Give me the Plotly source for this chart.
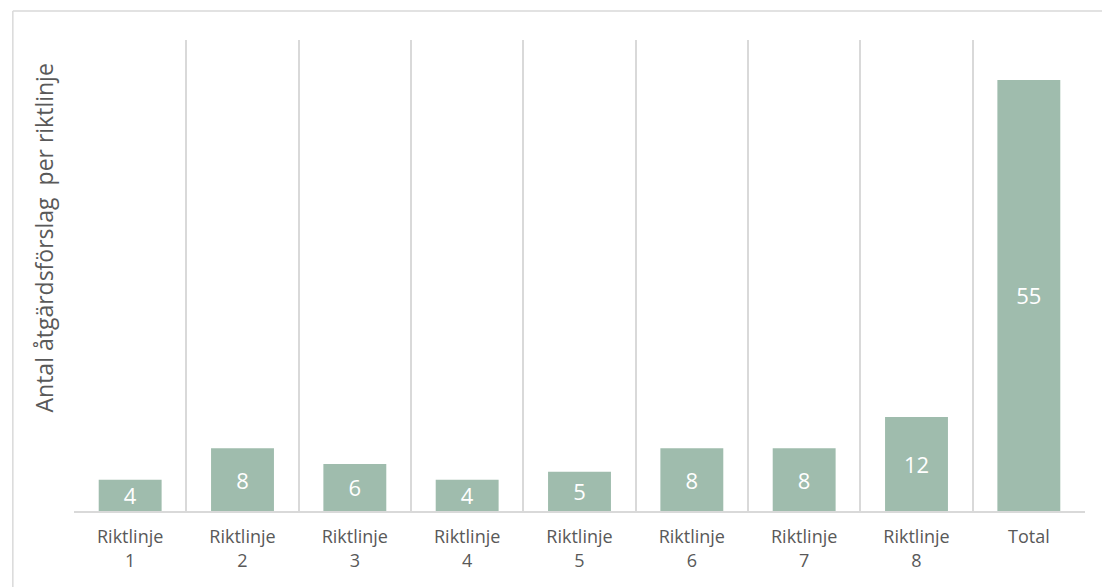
import plotly.graph_objects as go

categories = ["Riktlinje<br>1", "Riktlinje<br>2", "Riktlinje<br>3", "Riktlinje<br>4",
              "Riktlinje<br>5", "Riktlinje<br>6", "Riktlinje<br>7", "Riktlinje<br>8", "Total"]
values = [4, 8, 6, 4, 5, 8, 8, 12, 55]
y_title = "Antal åtgärdsförslag  per riktlinje"

FONT = "Open Sans, Liberation Sans, sans-serif"

fig = go.Figure(go.Bar(
    x=categories, y=values,
    marker=dict(color="#9fbcad", line=dict(width=0)),
    text=[str(v) for v in values],
    textposition="inside", insidetextanchor="middle",
    textangle=0, constraintext="none",
    textfont=dict(color="white", size=22, family=FONT),
    hoverinfo="skip",
))

fig.update_layout(
    width=1102, height=587,
    margin=dict(l=74, r=17, t=40, b=76),
    paper_bgcolor="white", plot_bgcolor="white",
    bargap=0.44, showlegend=False,
    font=dict(family=FONT, color="#595959"),
    xaxis=dict(
        type="category", tickson="boundaries", showgrid=True,
        gridcolor="#d9d9d9", gridwidth=1.5, ticks="",
        showline=True, linecolor="#d9d9d9", linewidth=1.5,
        tickfont=dict(size=18, color="#595959", family=FONT),
        ticklabelstandoff=9,
    ),
    yaxis=dict(range=[0, 60.1], showgrid=False, showticklabels=False,
               zeroline=False, showline=False, ticks=""),
    uniformtext=dict(mode=False),
    shapes=[
        dict(type="line", xref="paper", yref="paper", x0=-0.0605, x1=1.02,
             y0=1.0617, y1=1.0617, line=dict(color="#d9d9d9", width=1.5)),
        dict(type="line", xref="paper", yref="paper", x0=-0.0605, x1=-0.0605,
             y0=1.0617, y1=-0.2, line=dict(color="#d9d9d9", width=1.5)),
    ],
    annotations=[dict(
        text=y_title, textangle=-90, xref="paper", yref="paper",
        x=-0.03, y=0.58, xanchor="center", yanchor="middle", showarrow=False,
        font=dict(size=23, color="#595959", family=FONT),
    )],
)

fig.write_html("out.html")
